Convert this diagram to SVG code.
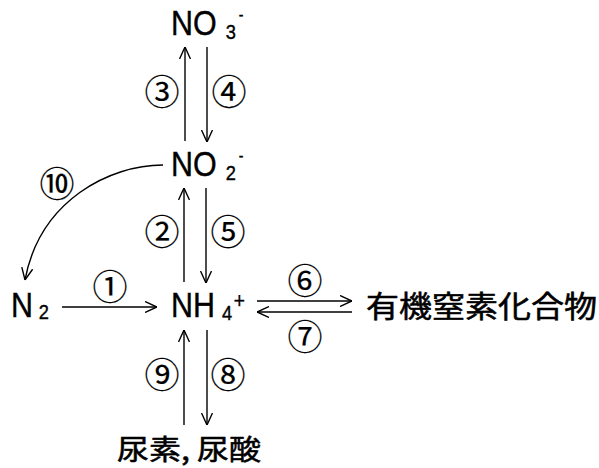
<svg xmlns="http://www.w3.org/2000/svg" width="599" height="468" viewBox="0 0 599 468">
<style>
.f{font-family:"Liberation Sans",Arial,sans-serif;font-size:35px;fill:#000;stroke:#000;stroke-width:0.4}
.s{font-size:21px}
.p{font-size:16px}
.j{font-family:"Noto Sans CJK JP",sans-serif;fill:#000;stroke:#000;stroke-width:0.6}
.c{font-family:"Noto Sans CJK JP",sans-serif;font-size:35px;fill:#000;text-anchor:middle;stroke:#000;stroke-width:0.2}
.l{stroke:#000;stroke-width:1.4;fill:none}
</style>
<defs>
<marker id="a" markerUnits="userSpaceOnUse" viewBox="0 0 12 12" refX="12" refY="6" markerWidth="12" markerHeight="12" orient="auto">
<path d="M0,0.5 L12,6 L0,11.5" fill="none" stroke="#000" stroke-width="1.4"/>
</marker>
</defs>
<g id="no3"><text class="f" transform="translate(171,35) scale(0.87,1)">NO<tspan class="s" x="63" y="4">3</tspan><tspan class="p" x="78" y="-15">-</tspan></text></g>
<g id="no2"><text class="f" transform="translate(171,176) scale(0.87,1)">NO<tspan class="s" x="63" y="4">2</tspan><tspan class="p" x="78" y="-15">-</tspan></text></g>
<g id="n2"><text class="f" transform="translate(11,317) scale(0.87,1)">N<tspan class="s" x="32" y="2">2</tspan></text></g>
<g id="nh4"><text class="f" transform="translate(171,317) scale(0.87,1)">NH<tspan class="s" x="58.5" y="3">4</tspan><tspan font-size="22" x="72" y="-9">+</tspan></text></g>
<g id="organic"><text class="j" font-size="33" transform="translate(366,317) scale(1,0.9)">有機窒素化合物</text></g>
<g id="urea"><text class="j" font-size="32" transform="translate(117,460) scale(1,0.88)">尿素, 尿酸</text></g>
<g id="connectors">
<line class="l" x1="185" y1="141" x2="185" y2="47" marker-end="url(#a)"/>
<line class="l" x1="207" y1="47" x2="207" y2="142" marker-end="url(#a)"/>
<line class="l" x1="184" y1="282" x2="184" y2="188" marker-end="url(#a)"/>
<line class="l" x1="206" y1="188" x2="206" y2="283" marker-end="url(#a)"/>
<line class="l" x1="184" y1="425" x2="184" y2="330" marker-end="url(#a)"/>
<line class="l" x1="207" y1="330" x2="207" y2="425" marker-end="url(#a)"/>
<line class="l" x1="62" y1="307" x2="157" y2="307" marker-end="url(#a)"/>
<line class="l" x1="257" y1="301" x2="352" y2="301" marker-end="url(#a)"/>
<line class="l" x1="352" y1="312" x2="257" y2="312" marker-end="url(#a)"/>
<path class="l" d="M163,165 C110,165 40,200 25,280" marker-end="url(#a)"/>
</g>
<g id="labels">
<text class="c" x="162" y="105">③</text>
<text class="c" x="229" y="105">④</text>
<text class="c" x="162" y="245">②</text>
<text class="c" x="228" y="245">⑤</text>
<text class="c" x="57" y="197">⑩</text>
<text class="c" x="110" y="300">①</text>
<text class="c" x="305" y="294">⑥</text>
<text class="c" x="305" y="350">⑦</text>
<text class="c" x="162" y="388">⑨</text>
<text class="c" x="228" y="388">⑧</text>
</g>
</svg>
